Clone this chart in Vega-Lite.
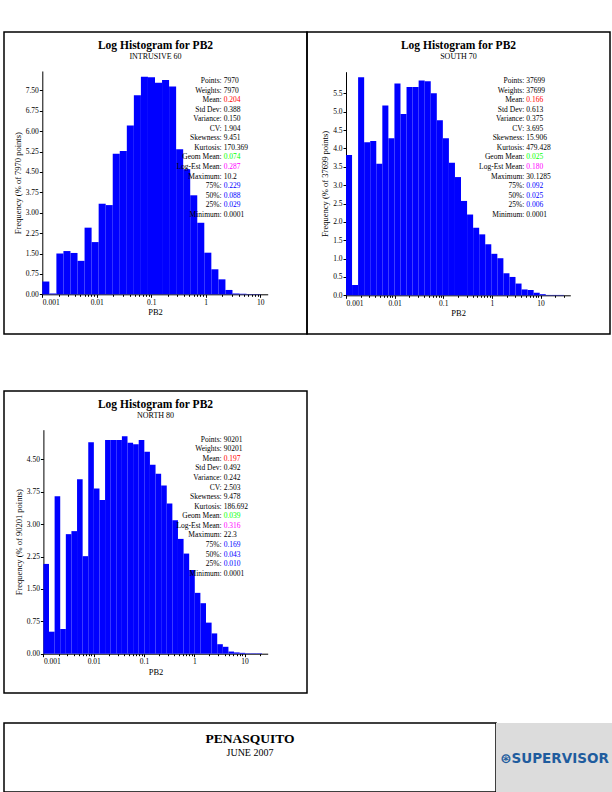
{
  "$schema": "https://vega.github.io/schema/vega-lite/v6.json",
  "padding": {"left": 3, "top": 31, "right": 0, "bottom": 0},
  "background": "white",
  "config": {
    "font": "Liberation Serif",
    "view": {"stroke": null},
    "axis": {"domainColor": "#000000", "tickColor": "#000000", "labelColor": "#000000", "titleColor": "#000000", "labelFont": "Liberation Serif", "titleFont": "Liberation Serif", "labelFontSize": 7.5, "titleFontSize": 8.5, "titleFontWeight": "normal", "tickSize": 3, "labelPadding": 1, "grid": false, "domainWidth": 1},
    "title": {"font": "Liberation Serif", "fontSize": 11.5, "fontWeight": "bold", "color": "#000000", "subtitleFont": "Liberation Serif", "subtitleFontSize": 8, "subtitleColor": "#000000", "subtitlePadding": 1, "anchor": "middle", "frame": "group"}
  },
  "datasets": {
    "hist1": [
      {"lo": -3, "hi": -2.8707, "pct": 0.47}, {"lo": -2.8707, "hi": -2.7414, "pct": 0.03}, {"lo": -2.7414, "hi": -2.6121, "pct": 1.5}, {"lo": -2.6121, "hi": -2.4828, "pct": 1.59}, {"lo": -2.4828, "hi": -2.3534, "pct": 1.52}, {"lo": -2.3534, "hi": -2.2241, "pct": 1.23}, {"lo": -2.2241, "hi": -2.0948, "pct": 2.45}, {"lo": -2.0948, "hi": -1.9655, "pct": 1.92}, {"lo": -1.9655, "hi": -1.8362, "pct": 3.33}, {"lo": -1.8362, "hi": -1.7069, "pct": 3.28}, {"lo": -1.7069, "hi": -1.5776, "pct": 5.17}, {"lo": -1.5776, "hi": -1.4483, "pct": 5.27}, {"lo": -1.4483, "hi": -1.319, "pct": 6.21}, {"lo": -1.319, "hi": -1.1897, "pct": 7.32}, {"lo": -1.1897, "hi": -1.0603, "pct": 8.0}, {"lo": -1.0603, "hi": -0.931, "pct": 7.98}, {"lo": -0.931, "hi": -0.8017, "pct": 7.78}, {"lo": -0.8017, "hi": -0.6724, "pct": 7.88}, {"lo": -0.6724, "hi": -0.5431, "pct": 7.64}, {"lo": -0.5431, "hi": -0.4138, "pct": 5.33}, {"lo": -0.4138, "hi": -0.2845, "pct": 4.6}, {"lo": -0.2845, "hi": -0.1552, "pct": 3.64}, {"lo": -0.1552, "hi": -0.0259, "pct": 2.63}, {"lo": -0.0259, "hi": 0.1034, "pct": 1.53}, {"lo": 0.1034, "hi": 0.2328, "pct": 0.92}, {"lo": 0.2328, "hi": 0.3621, "pct": 0.55}, {"lo": 0.3621, "hi": 0.4914, "pct": 0.16}, {"lo": 0.4914, "hi": 0.6207, "pct": 0.03}, {"lo": 0.6207, "hi": 0.75, "pct": 0.02}, {"lo": 0.75, "hi": 0.8793, "pct": 0.01}, {"lo": 0.8793, "hi": 1.0086, "pct": 0.01}
    ],
    "hist2": [
      {"lo": -3, "hi": -2.8756, "pct": 3.82}, {"lo": -2.8756, "hi": -2.7512, "pct": 0.28}, {"lo": -2.7512, "hi": -2.6267, "pct": 5.94}, {"lo": -2.6267, "hi": -2.5023, "pct": 4.17}, {"lo": -2.5023, "hi": -2.3779, "pct": 4.2}, {"lo": -2.3779, "hi": -2.2535, "pct": 3.58}, {"lo": -2.2535, "hi": -2.1291, "pct": 5.17}, {"lo": -2.1291, "hi": -2.0047, "pct": 4.28}, {"lo": -2.0047, "hi": -1.8802, "pct": 5.77}, {"lo": -1.8802, "hi": -1.7558, "pct": 4.94}, {"lo": -1.7558, "hi": -1.6314, "pct": 5.67}, {"lo": -1.6314, "hi": -1.507, "pct": 5.67}, {"lo": -1.507, "hi": -1.3826, "pct": 5.85}, {"lo": -1.3826, "hi": -1.2582, "pct": 5.83}, {"lo": -1.2582, "hi": -1.1337, "pct": 5.5}, {"lo": -1.1337, "hi": -1.0093, "pct": 4.77}, {"lo": -1.0093, "hi": -0.8849, "pct": 4.28}, {"lo": -0.8849, "hi": -0.7605, "pct": 3.61}, {"lo": -0.7605, "hi": -0.6361, "pct": 3.22}, {"lo": -0.6361, "hi": -0.5117, "pct": 2.57}, {"lo": -0.5117, "hi": -0.3872, "pct": 2.2}, {"lo": -0.3872, "hi": -0.2628, "pct": 1.84}, {"lo": -0.2628, "hi": -0.1384, "pct": 1.66}, {"lo": -0.1384, "hi": -0.014, "pct": 1.39}, {"lo": -0.014, "hi": 0.1104, "pct": 1.13}, {"lo": 0.1104, "hi": 0.2348, "pct": 1.01}, {"lo": 0.2348, "hi": 0.3593, "pct": 0.6}, {"lo": 0.3593, "hi": 0.4837, "pct": 0.5}, {"lo": 0.4837, "hi": 0.6081, "pct": 0.32}, {"lo": 0.6081, "hi": 0.7325, "pct": 0.16}, {"lo": 0.7325, "hi": 0.8569, "pct": 0.145}, {"lo": 0.8569, "hi": 0.9813, "pct": 0.07}, {"lo": 0.9813, "hi": 1.1058, "pct": 0.03}, {"lo": 1.1058, "hi": 1.2302, "pct": 0.01}, {"lo": 1.2302, "hi": 1.3546, "pct": 0.01}, {"lo": 1.3546, "hi": 1.479, "pct": 0.01}
    ],
    "hist3": [
      {"lo": -3, "hi": -2.8885, "pct": 2.08}, {"lo": -2.8885, "hi": -2.777, "pct": 0.51}, {"lo": -2.777, "hi": -2.6655, "pct": 3.65}, {"lo": -2.6655, "hi": -2.554, "pct": 0.57}, {"lo": -2.554, "hi": -2.4425, "pct": 2.77}, {"lo": -2.4425, "hi": -2.3311, "pct": 2.84}, {"lo": -2.3311, "hi": -2.2196, "pct": 4.04}, {"lo": -2.2196, "hi": -2.1081, "pct": 2.26}, {"lo": -2.1081, "hi": -1.9966, "pct": 4.9}, {"lo": -1.9966, "hi": -1.8851, "pct": 3.83}, {"lo": -1.8851, "hi": -1.7736, "pct": 3.56}, {"lo": -1.7736, "hi": -1.6621, "pct": 4.95}, {"lo": -1.6621, "hi": -1.5506, "pct": 4.95}, {"lo": -1.5506, "hi": -1.4391, "pct": 4.95}, {"lo": -1.4391, "hi": -1.3276, "pct": 5.04}, {"lo": -1.3276, "hi": -1.2162, "pct": 4.89}, {"lo": -1.2162, "hi": -1.1047, "pct": 4.85}, {"lo": -1.1047, "hi": -0.9932, "pct": 4.95}, {"lo": -0.9932, "hi": -0.8817, "pct": 4.68}, {"lo": -0.8817, "hi": -0.7702, "pct": 4.38}, {"lo": -0.7702, "hi": -0.6587, "pct": 4.17}, {"lo": -0.6587, "hi": -0.5472, "pct": 3.9}, {"lo": -0.5472, "hi": -0.4357, "pct": 3.48}, {"lo": -0.4357, "hi": -0.3242, "pct": 3.09}, {"lo": -0.3242, "hi": -0.2127, "pct": 2.66}, {"lo": -0.2127, "hi": -0.1013, "pct": 2.32}, {"lo": -0.1013, "hi": 0.0102, "pct": 1.94}, {"lo": 0.0102, "hi": 0.1217, "pct": 1.41}, {"lo": 0.1217, "hi": 0.2332, "pct": 1.17}, {"lo": 0.2332, "hi": 0.3447, "pct": 0.72}, {"lo": 0.3447, "hi": 0.4562, "pct": 0.47}, {"lo": 0.4562, "hi": 0.5677, "pct": 0.22}, {"lo": 0.5677, "hi": 0.6792, "pct": 0.16}, {"lo": 0.6792, "hi": 0.7907, "pct": 0.05}, {"lo": 0.7907, "hi": 0.9022, "pct": 0.03}, {"lo": 0.9022, "hi": 1.0136, "pct": 0.02}, {"lo": 1.0136, "hi": 1.1251, "pct": 0.01}, {"lo": 1.1251, "hi": 1.2366, "pct": 0.01}, {"lo": 1.2366, "hi": 1.3481, "pct": 0.01}
    ],
    "stats1": [
      {"line": 0, "label": "Points:", "value": "7970", "kind": "plain"}, {"line": 1, "label": "Weights:", "value": "7970", "kind": "plain"}, {"line": 2, "label": "Mean:", "value": "0.204", "kind": "mean"}, {"line": 3, "label": "Std Dev:", "value": "0.388", "kind": "plain"}, {"line": 4, "label": "Variance:", "value": "0.150", "kind": "plain"}, {"line": 5, "label": "CV:", "value": "1.904", "kind": "plain"}, {"line": 6, "label": "Skewness:", "value": "9.451", "kind": "plain"}, {"line": 7, "label": "Kurtosis:", "value": "170.369", "kind": "plain"}, {"line": 8, "label": "Geom Mean:", "value": "0.074", "kind": "geom"}, {"line": 9, "label": "Log-Est Mean:", "value": "0.287", "kind": "logest"}, {"line": 10, "label": "Maximum:", "value": "10.2", "kind": "plain"}, {"line": 11, "label": "75%:", "value": "0.229", "kind": "quantile"}, {"line": 12, "label": "50%:", "value": "0.088", "kind": "quantile"}, {"line": 13, "label": "25%:", "value": "0.029", "kind": "quantile"}, {"line": 14, "label": "Minimum:", "value": "0.0001", "kind": "plain"}
    ],
    "stats2": [
      {"line": 0, "label": "Points:", "value": "37699", "kind": "plain"}, {"line": 1, "label": "Weights:", "value": "37699", "kind": "plain"}, {"line": 2, "label": "Mean:", "value": "0.166", "kind": "mean"}, {"line": 3, "label": "Std Dev:", "value": "0.613", "kind": "plain"}, {"line": 4, "label": "Variance:", "value": "0.375", "kind": "plain"}, {"line": 5, "label": "CV:", "value": "3.695", "kind": "plain"}, {"line": 6, "label": "Skewness:", "value": "15.906", "kind": "plain"}, {"line": 7, "label": "Kurtosis:", "value": "479.428", "kind": "plain"}, {"line": 8, "label": "Geom Mean:", "value": "0.025", "kind": "geom"}, {"line": 9, "label": "Log-Est Mean:", "value": "0.180", "kind": "logest"}, {"line": 10, "label": "Maximum:", "value": "30.1285", "kind": "plain"}, {"line": 11, "label": "75%:", "value": "0.092", "kind": "quantile"}, {"line": 12, "label": "50%:", "value": "0.025", "kind": "quantile"}, {"line": 13, "label": "25%:", "value": "0.006", "kind": "quantile"}, {"line": 14, "label": "Minimum:", "value": "0.0001", "kind": "plain"}
    ],
    "stats3": [
      {"line": 0, "label": "Points:", "value": "90201", "kind": "plain"}, {"line": 1, "label": "Weights:", "value": "90201", "kind": "plain"}, {"line": 2, "label": "Mean:", "value": "0.197", "kind": "mean"}, {"line": 3, "label": "Std Dev:", "value": "0.492", "kind": "plain"}, {"line": 4, "label": "Variance:", "value": "0.242", "kind": "plain"}, {"line": 5, "label": "CV:", "value": "2.503", "kind": "plain"}, {"line": 6, "label": "Skewness:", "value": "9.478", "kind": "plain"}, {"line": 7, "label": "Kurtosis:", "value": "186.692", "kind": "plain"}, {"line": 8, "label": "Geom Mean:", "value": "0.039", "kind": "geom"}, {"line": 9, "label": "Log-Est Mean:", "value": "0.316", "kind": "logest"}, {"line": 10, "label": "Maximum:", "value": "22.3", "kind": "plain"}, {"line": 11, "label": "75%:", "value": "0.169", "kind": "quantile"}, {"line": 12, "label": "50%:", "value": "0.043", "kind": "quantile"}, {"line": 13, "label": "25%:", "value": "0.010", "kind": "quantile"}, {"line": 14, "label": "Minimum:", "value": "0.0001", "kind": "plain"}
    ]
  },
  "vconcat": [
    {
      "vconcat": [
        {
          "hconcat": [
            {
              "width": 303, "height": 302,
              "view": {"stroke": "#000000", "strokeWidth": 1.5},
              "title": {"text": "Log Histogram for PB2", "subtitle": "INTRUSIVE 60", "offset": -28.5},
              "layer": [
                {
                  "data": {"name": "hist1"},
                  "mark": {"type": "rect", "color": "#0000FF"},
                  "encoding": {
                    "x": {"field": "lo", "type": "quantitative", "scale": {"domain": [-3, 1.138], "range": [38.3, 263.7], "nice": false, "zero": false}, "axis": {"orient": "bottom", "offset": -39.7, "values": [-3, -2, -1, 0, 1], "labelExpr": "format(pow(10, datum.value), '~g')", "title": "PB2", "titlePadding": 2}},
                    "x2": {"field": "hi"},
                    "y": {"field": "pct", "type": "quantitative", "scale": {"domain": [0, 8.21], "range": [262.3, 39], "nice": false}, "axis": {"orient": "left", "offset": -38.3, "values": [0, 0.75, 1.5, 2.25, 3, 3.75, 4.5, 5.25, 6, 6.75, 7.5], "format": ".2f", "title": "Frequency (% of 7970 points)", "titlePadding": 3}},
                    "y2": {"datum": 0}
                  }
                },
                {
                  "data": {"name": "stats1"},
                  "mark": {"type": "text", "align": "right", "baseline": "middle", "fontSize": 7.5, "color": "#000000"},
                  "encoding": {
                    "x": {"datum": 0.2935, "type": "quantitative", "axis": {"orient": "bottom", "offset": -39.7, "values": [-2.699, -2.5229, -2.3979, -2.301, -2.2218, -2.1549, -2.0969, -2.0458, -1.699, -1.5229, -1.3979, -1.301, -1.2218, -1.1549, -1.0969, -1.0458, -0.699, -0.5229, -0.3979, -0.301, -0.2218, -0.1549, -0.0969, -0.0458, 0.301, 0.4771, 0.6021, 0.699, 0.7782, 0.8451, 0.9031, 0.9542], "labels": false, "domain": false, "tickSize": 2, "title": null}},
                    "y": {"field": "line", "type": "quantitative", "scale": {"domain": [0, 14], "range": [49, 182.7], "nice": false}, "axis": null},
                    "text": {"field": "label"}
                  }
                },
                {
                  "data": {"name": "stats1"},
                  "mark": {"type": "text", "align": "left", "baseline": "middle", "fontSize": 7.5, "dx": 2},
                  "encoding": {
                    "x": {"datum": 0.2935, "type": "quantitative", "axis": null},
                    "y": {"field": "line", "type": "quantitative", "scale": {"domain": [0, 14], "range": [49, 182.7], "nice": false}, "axis": null},
                    "text": {"field": "value"},
                    "color": {"field": "kind", "type": "nominal", "scale": {"domain": ["plain", "mean", "geom", "logest", "quantile"], "range": ["#000000", "#FF0000", "#00FF00", "#FF00FF", "#0000FF"]}, "legend": null}
                  }
                }
              ],
              "resolve": {"scale": {"y": "independent"}, "axis": {"x": "independent", "y": "independent"}}
            },
            {
              "width": 303, "height": 302,
              "view": {"stroke": "#000000", "strokeWidth": 1.5},
              "title": {"text": "Log Histogram for PB2", "subtitle": "SOUTH 70", "offset": -28.5},
              "layer": [
                {
                  "data": {"name": "hist2"},
                  "mark": {"type": "rect", "color": "#0000FF"},
                  "encoding": {
                    "x": {"field": "lo", "type": "quantitative", "scale": {"domain": [-3, 1.61], "range": [39, 263.3], "nice": false, "zero": false}, "axis": {"orient": "bottom", "offset": -38.7, "values": [-3, -2, -1, 0, 1], "labelExpr": "format(pow(10, datum.value), '~g')", "title": "PB2", "titlePadding": 2}},
                    "x2": {"field": "hi"},
                    "y": {"field": "pct", "type": "quantitative", "scale": {"domain": [0, 6.09], "range": [263.3, 39.7], "nice": false}, "axis": {"orient": "left", "offset": -39, "values": [0, 0.5, 1, 1.5, 2, 2.5, 3, 3.5, 4, 4.5, 5, 5.5], "format": ".1f", "title": "Frequency (% of 37699 points)", "titlePadding": 3}},
                    "y2": {"datum": 0}
                  }
                },
                {
                  "data": {"name": "stats2"},
                  "mark": {"type": "text", "align": "right", "baseline": "middle", "fontSize": 7.5, "color": "#000000"},
                  "encoding": {
                    "x": {"datum": 0.665, "type": "quantitative", "axis": {"orient": "bottom", "offset": -38.7, "values": [-2.699, -2.5229, -2.3979, -2.301, -2.2218, -2.1549, -2.0969, -2.0458, -1.699, -1.5229, -1.3979, -1.301, -1.2218, -1.1549, -1.0969, -1.0458, -0.699, -0.5229, -0.3979, -0.301, -0.2218, -0.1549, -0.0969, -0.0458, 0.301, 0.4771, 0.6021, 0.699, 0.7782, 0.8451, 0.9031, 0.9542, 1.301, 1.4771], "labels": false, "domain": false, "tickSize": 2, "title": null}},
                    "y": {"field": "line", "type": "quantitative", "scale": {"domain": [0, 14], "range": [49, 182.7], "nice": false}, "axis": null},
                    "text": {"field": "label"}
                  }
                },
                {
                  "data": {"name": "stats2"},
                  "mark": {"type": "text", "align": "left", "baseline": "middle", "fontSize": 7.5, "dx": 2},
                  "encoding": {
                    "x": {"datum": 0.665, "type": "quantitative", "axis": null},
                    "y": {"field": "line", "type": "quantitative", "scale": {"domain": [0, 14], "range": [49, 182.7], "nice": false}, "axis": null},
                    "text": {"field": "value"},
                    "color": {"field": "kind", "type": "nominal", "scale": {"domain": ["plain", "mean", "geom", "logest", "quantile"], "range": ["#000000", "#FF0000", "#00FF00", "#FF00FF", "#0000FF"]}, "legend": null}
                  }
                }
              ],
              "resolve": {"scale": {"y": "independent"}, "axis": {"x": "independent", "y": "independent"}}
            }
          ],
          "spacing": 0,
          "bounds": "flush"
        },
        {
          "width": 303, "height": 302,
          "view": {"stroke": "#000000", "strokeWidth": 1.5},
          "title": {"text": "Log Histogram for PB2", "subtitle": "NORTH 80", "offset": -28.5},
          "layer": [
            {
              "data": {"name": "hist3"},
              "mark": {"type": "rect", "color": "#0000FF"},
              "encoding": {
                "x": {"field": "lo", "type": "quantitative", "scale": {"domain": [-3, 1.46], "range": [39.4, 263.7], "nice": false, "zero": false}, "axis": {"orient": "bottom", "offset": -39.3, "values": [-3, -2, -1, 0, 1], "labelExpr": "format(pow(10, datum.value), '~g')", "title": "PB2", "titlePadding": 2}},
                "x2": {"field": "hi"},
                "y": {"field": "pct", "type": "quantitative", "scale": {"domain": [0, 5.19], "range": [262.7, 38.7], "nice": false}, "axis": {"orient": "left", "offset": -39.4, "values": [0, 0.75, 1.5, 2.25, 3, 3.75, 4.5], "format": ".2f", "title": "Frequency (% of 90201 points)", "titlePadding": 3}},
                "y2": {"datum": 0}
              }
            },
            {
              "data": {"name": "stats3"},
              "mark": {"type": "text", "align": "right", "baseline": "middle", "fontSize": 7.5, "color": "#000000"},
              "encoding": {
                "x": {"datum": 0.5447, "type": "quantitative", "axis": {"orient": "bottom", "offset": -39.3, "values": [-2.699, -2.5229, -2.3979, -2.301, -2.2218, -2.1549, -2.0969, -2.0458, -1.699, -1.5229, -1.3979, -1.301, -1.2218, -1.1549, -1.0969, -1.0458, -0.699, -0.5229, -0.3979, -0.301, -0.2218, -0.1549, -0.0969, -0.0458, 0.301, 0.4771, 0.6021, 0.699, 0.7782, 0.8451, 0.9031, 0.9542, 1.301], "labels": false, "domain": false, "tickSize": 2, "title": null}},
                "y": {"field": "line", "type": "quantitative", "scale": {"domain": [0, 14], "range": [48.7, 182.7], "nice": false}, "axis": null},
                "text": {"field": "label"}
              }
            },
            {
              "data": {"name": "stats3"},
              "mark": {"type": "text", "align": "left", "baseline": "middle", "fontSize": 7.5, "dx": 2},
              "encoding": {
                "x": {"datum": 0.5447, "type": "quantitative", "axis": null},
                "y": {"field": "line", "type": "quantitative", "scale": {"domain": [0, 14], "range": [48.7, 182.7], "nice": false}, "axis": null},
                "text": {"field": "value"},
                "color": {"field": "kind", "type": "nominal", "scale": {"domain": ["plain", "mean", "geom", "logest", "quantile"], "range": ["#000000", "#FF0000", "#00FF00", "#FF00FF", "#0000FF"]}, "legend": null}
              }
            }
          ],
          "resolve": {"scale": {"y": "independent"}, "axis": {"x": "independent", "y": "independent"}}
        }
      ],
      "spacing": 55
    },
    {
      "hconcat": [
        {
          "width": 492, "height": 69,
          "view": {"stroke": "#000000", "strokeWidth": 1.5},
          "title": {"text": "PENASQUITO", "subtitle": "JUNE 2007", "offset": -35, "fontSize": 13.5, "subtitleFontSize": 10, "subtitlePadding": 3},
          "data": {"values": []},
          "mark": "rule",
          "encoding": {}
        },
        {
          "width": 117, "height": 70,
          "view": {"stroke": null, "fill": "#DCDCDC"},
          "title": {"text": "⊛SUPERVISOR", "offset": -42, "font": "DejaVu Sans", "fontSize": 13.5, "fontWeight": "bold", "color": "#1F5C9E"},
          "data": {"values": []},
          "mark": "rule",
          "encoding": {}
        }
      ],
      "spacing": 0,
      "bounds": "flush"
    }
  ],
  "spacing": 28
}
